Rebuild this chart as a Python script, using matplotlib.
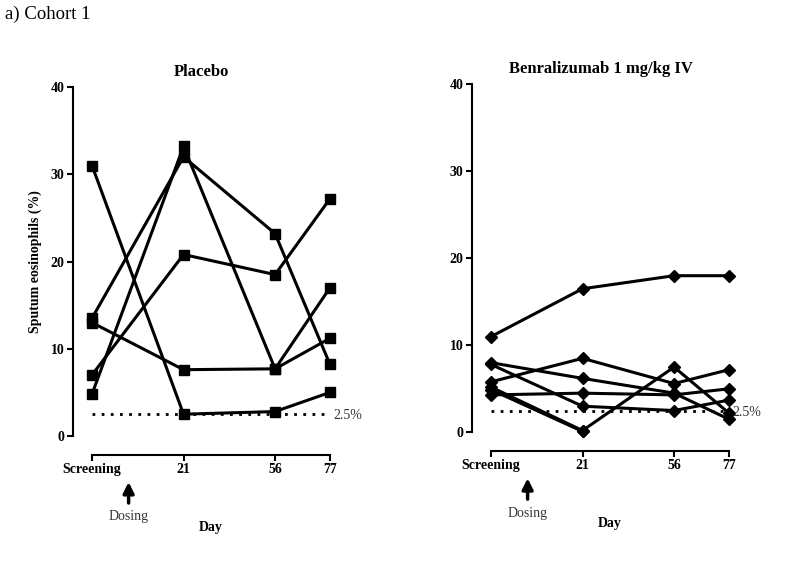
import matplotlib
matplotlib.use("Agg")
import matplotlib.pyplot as plt
import numpy as np

plt.rcParams['font.family'] = ['Liberation Serif', 'DejaVu Serif']

days = [-14, 21, 56, 77]
day_labels = ["Screening", "21", "56", "77"]
dosing_day = 0
threshold = 2.5

placebo = [
    [31.0, 2.5, 2.8, 5.0],
    [13.5, 32.0, 23.2, 8.2],
    [13.0, 7.6, 7.7, 11.2],
    [7.0, 20.8, 18.5, 27.2],
    [4.8, 33.2, 7.7, 17.0],
]

benra = [
    [11.0, 16.5, 18.0, 18.0],
    [8.0, 6.2, 4.5, 1.5],
    [7.8, 3.0, 2.5, 3.7],
    [5.8, 8.5, 5.6, 7.2],
    [5.2, 0.2, 7.5, 2.2],
    [4.9, 0.1, np.nan, np.nan],
    [4.3, 4.5, 4.3, 5.0],
]

fig = plt.figure(figsize=(8, 5.68), dpi=100)
fig.text(0.006, 0.974, "a) Cohort 1", fontsize=13.5, va="center", ha="left")


def panel(pos, data, marker, msize, title):
    ax = fig.add_axes(pos)
    for row in data:
        ax.plot(days, row, color="black", lw=2.2, marker=marker,
                ms=msize, clip_on=False)
    # 2.5% threshold line
    ax.plot([days[0], days[-1]], [threshold, threshold], color="black",
            lw=2, linestyle=(0, (1.0, 2.3)))
    ax.text(days[-1] + 1.2, threshold - 0.2, "2.5%", fontsize=10,
            color="#333333", va="center", ha="left")
    ax.set_xlim(days[0], days[-1])
    ax.set_ylim(0, 40)
    ax.set_yticks([0, 10, 20, 30, 40])
    ax.set_xticks(days)
    ax.set_xticklabels(day_labels)
    for s in ["top", "right"]:
        ax.spines[s].set_visible(False)
    ax.spines["left"].set_position(("outward", 14))
    ax.spines["bottom"].set_position(("outward", 13.5))
    for s in ["left", "bottom"]:
        ax.spines[s].set_linewidth(1.5)
    ax.tick_params(width=1.5, length=4, labelsize=10, pad=2)
    for lab in ax.get_xticklabels() + ax.get_yticklabels():
        lab.set_fontweight("bold")
    ax.text(0.46, 1.02, title, transform=ax.transAxes, ha="center",
            va="bottom", fontsize=12, fontweight="bold")
    ax.set_xlabel("Day", fontsize=10, fontweight="bold", labelpad=32)
    # dosing arrow below axis
    ax.annotate("", xy=(dosing_day, -0.124), xycoords=("data", "axes fraction"),
                xytext=(dosing_day, -0.2), textcoords=("data", "axes fraction"),
                arrowprops=dict(arrowstyle="-|>", color="black", lw=2.5,
                                mutation_scale=16))
    ax.text(dosing_day, -0.232, "Dosing", transform=ax.get_xaxis_transform(),
            ha="center", va="center", fontsize=10, color="#333333")
    return ax


ax1 = panel([0.115, 0.2324, 0.2975, 0.6144], placebo, "s", 6.8, "Placebo")
ax1.set_ylabel("Sputum eosinophils (%)", fontsize=10, fontweight="bold",
               labelpad=6)
ax2 = panel([0.61375, 0.2389, 0.2975, 0.6127], benra, "D", 6.0,
            "Benralizumab 1 mg/kg IV")

fig.savefig("out.png", dpi=100)
